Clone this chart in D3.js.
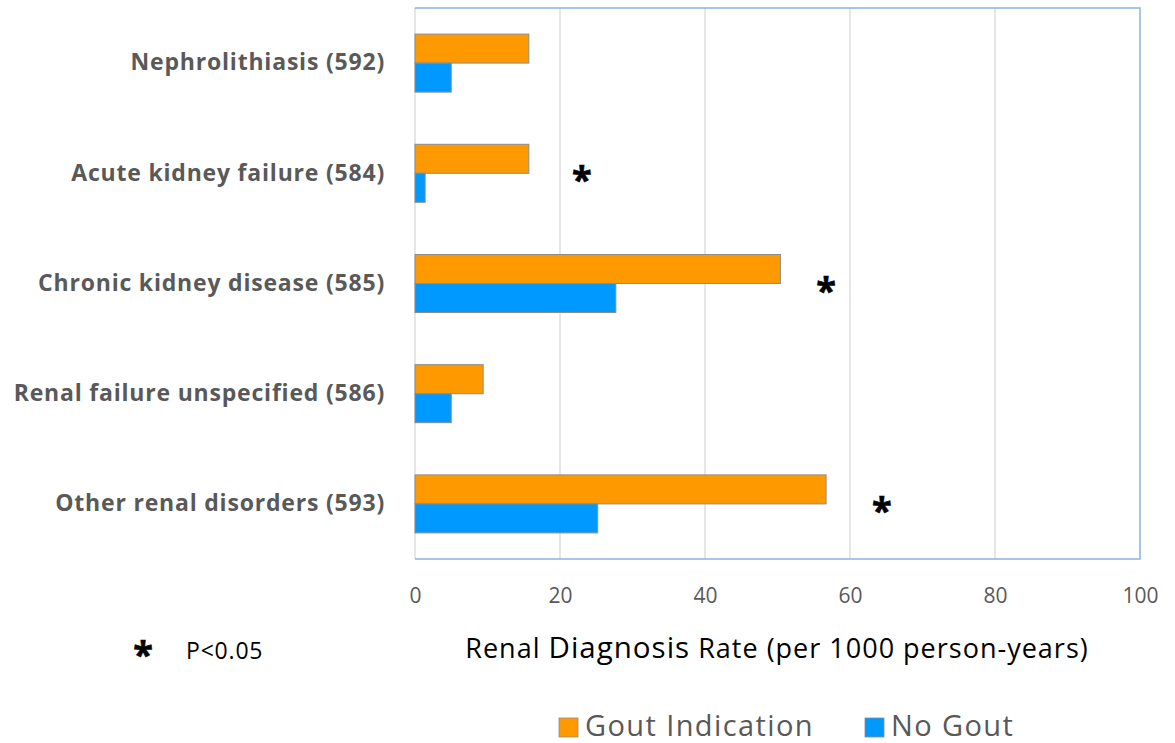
<!DOCTYPE html>
<html>
<head>
<meta charset="utf-8">
<script src="https://cdn.jsdelivr.net/npm/d3@7"></script>
<style>
  body { margin: 0; background: #fff; }
  svg text { font-family: "Open Sans", sans-serif; }
</style>
</head>
<body>
<div id="graphicContainer"></div>
<script>

const categories = [
  "Nephrolithiasis (592)",
  "Acute kidney failure (584)",
  "Chronic kidney disease (585)",
  "Renal failure unspecified (586)",
  "Other renal disorders (593)"
]

const goutValues = [15.7, 15.7, 50.4, 9.4, 56.7]

const noGoutValues = [5.0, 1.4, 27.7, 5.0, 25.2]

// where the significance asterisks sit, in axis units (null = none)
const sigMarks = [null, 23, 56.7, null, 64.4]

const xTicks = [0, 20, 40, 60, 80, 100]

const seriesNames = ["Gout Indication", "No Gout"]

const seriesColors = ["#ff9900", "#0099ff"]

const width = 1175
const height = 743
const marginleft = 415
const marginright = 35
const margintop = 8
const marginbottom = 184

const innerW = width - marginleft - marginright
const innerH = height - margintop - marginbottom

const svg = d3.select("#graphicContainer").append("svg")
  .attr("width", width)
  .attr("height", height)

const g = svg.append("g")
  .attr("transform", `translate(${marginleft}, ${margintop})`)

const x = d3.scaleLinear()
  .domain([0, 100])
  .range([0, innerW])

const y = d3.scaleBand()
  .domain(categories)
  .range([0, innerH])

const barH = 29

// gridlines
g.append("g")
  .selectAll("line")
  .data(xTicks.slice(1, -1))
  .enter()
  .append("line")
  .attr("x1", d => x(d))
  .attr("x2", d => x(d))
  .attr("y1", 0)
  .attr("y2", innerH)
  .attr("stroke", "#d9d9d9")
  .attr("stroke-width", 1.3)

// left axis line (grey)
g.append("line")
  .attr("x1", 0).attr("x2", 0)
  .attr("y1", 0).attr("y2", innerH)
  .attr("stroke", "#d9d9d9")
  .attr("stroke-width", 1.3)

// blue frame top/right/bottom
g.append("path")
  .attr("d", `M0,0H${innerW}V${innerH}H0`)
  .attr("fill", "none")
  .attr("stroke", "#8ab4e0")
  .attr("stroke-width", 1.5)

const rows = categories.map((c, i) => ({ cat: c, gout: goutValues[i], none: noGoutValues[i], sig: sigMarks[i] }))

const bars = g.append("g")

bars.selectAll(".goutBar")
  .data(rows)
  .enter()
  .append("rect")
  .attr("class", "goutBar")
  .attr("x", x(0))
  .attr("y", d => y(d.cat) + y.bandwidth() / 2 - barH)
  .attr("width", d => x(d.gout) - x(0))
  .attr("height", barH)
  .attr("fill", seriesColors[0])
  .attr("stroke", "#8c8c8c")
  .attr("stroke-width", 1)

bars.selectAll(".noneBar")
  .data(rows)
  .enter()
  .append("rect")
  .attr("class", "noneBar")
  .attr("x", x(0))
  .attr("y", d => y(d.cat) + y.bandwidth() / 2)
  .attr("width", d => x(d.none) - x(0))
  .attr("height", barH)
  .attr("fill", seriesColors[1])
  .attr("stroke", "#8c8c8c")
  .attr("stroke-width", 1)

// asterisks
g.selectAll(".sig")
  .data(rows.filter(d => d.sig !== null))
  .enter()
  .append("text")
  .attr("class", "sig")
  .attr("x", d => x(d.sig))
  .attr("y", d => y(d.cat) + y.bandwidth() / 2 + 19)
  .attr("text-anchor", "middle")
  .attr("font-size", 36)
  .attr("font-weight", "bold")
  .attr("fill", "#000")
  .attr("stroke", "#000")
  .attr("stroke-width", 0.6)
  .text("*")

// category labels
const yAxis = g.append("g")
  .call(d3.axisLeft(y).tickSize(0).tickPadding(30))

yAxis.select(".domain").remove()

yAxis.selectAll("text")
  .attr("font-family", "'Open Sans', sans-serif")
  .attr("font-size", 23)
  .attr("letter-spacing", 0.8)
  .attr("font-weight", "bold")
  .attr("fill", "#595959")

// x tick labels
const xAxis = g.append("g")
  .attr("transform", `translate(0, ${innerH})`)
  .call(d3.axisBottom(x).tickValues(xTicks).tickSize(0).tickPadding(29))

xAxis.select(".domain").remove()

xAxis.selectAll("text")
  .attr("font-family", "'Open Sans', sans-serif")
  .attr("font-size", 21)
  .attr("fill", "#595959")

// axis title
const title = svg.append("text")
  .attr("x", 777)
  .attr("y", 658)
  .attr("text-anchor", "middle")
  .attr("fill", "#000")
  .attr("font-size", 27)
  .attr("letter-spacing", 1)

title.append("tspan").text("Renal ")
title.append("tspan").attr("font-size", 29.5).text("Diagnosis")
title.append("tspan").text(" Rate (per 1000 person-years)")

// footnote
svg.append("text")
  .attr("x", 143)
  .attr("y", 667)
  .attr("text-anchor", "middle")
  .attr("font-size", 36)
  .attr("font-weight", "bold")
  .attr("fill", "#000")
  .attr("stroke", "#000")
  .attr("stroke-width", 0.6)
  .text("*")

svg.append("text")
  .attr("x", 186)
  .attr("y", 659)
  .attr("font-size", 23)
  .attr("letter-spacing", 0.8)
  .attr("fill", "#000")
  .text("P<0.05")

// legend
const legendX = [559, 865]
const legend = svg.append("g")
  .selectAll("g")
  .data(seriesNames)
  .enter()
  .append("g")
  .attr("transform", (d, i) => `translate(${legendX[i]}, 718)`)

legend.append("rect")
  .attr("width", 19)
  .attr("height", 19)
  .attr("fill", (d, i) => seriesColors[i])
  .attr("stroke", "#8c8c8c")
  .attr("stroke-width", 0.8)

legend.append("text")
  .attr("x", 26)
  .attr("y", 18)
  .attr("font-size", 29)
  .attr("letter-spacing", 1.4)
  .attr("fill", "#595959")
  .text(d => d)

</script>
</body>
</html>
